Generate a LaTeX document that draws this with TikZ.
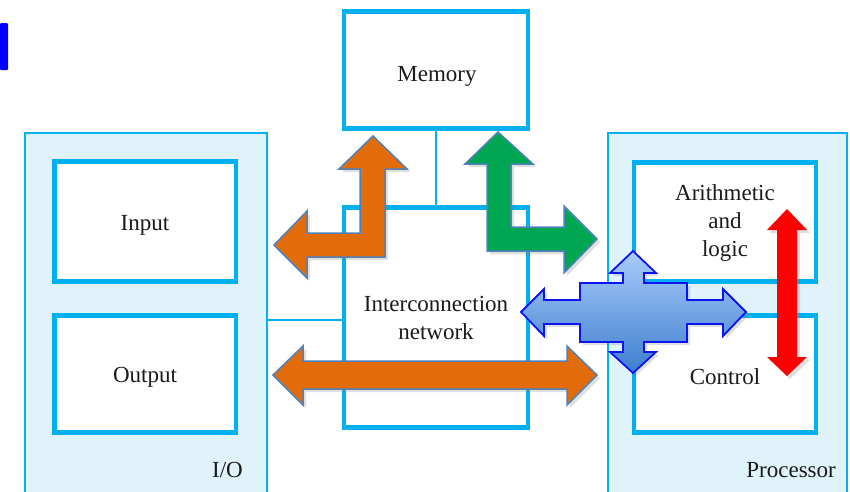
\documentclass[tikz,border=0pt]{standalone}
\usepackage{fontspec}
\setmainfont{Liberation Serif}
\usetikzlibrary{shadows}
\definecolor{cyanline}{HTML}{00B0F0}
\definecolor{lightfill}{HTML}{E0F3FB}
\definecolor{orangefill}{HTML}{E36C0A}
\definecolor{greenfill}{HTML}{00A651}
\definecolor{arrowedge}{HTML}{4F81BD}
\definecolor{crosstop}{HTML}{A9CCFA}
\definecolor{crossbot}{HTML}{3E7ECF}
\definecolor{crossedge}{HTML}{0A14F0}
\definecolor{markblue}{HTML}{0000FF}
\definecolor{textcol}{HTML}{1A1A1A}
\begin{document}
\begin{tikzpicture}[x=1pt,y=-1pt,
  every node/.style={font=\fontsize{23}{28}\selectfont, text=textcol},
  outerbox/.style={draw=cyanline, fill=lightfill, line width=2pt, inner sep=0pt, anchor=north west},
  unitbox/.style={draw=cyanline, fill=white, line width=4.5pt, inner sep=0pt},
  boxtext/.style={inner sep=0pt, align=center},
  link/.style={draw=cyanline, line width=2pt},
  shade/.style={drop shadow={shadow xshift=3pt, shadow yshift=-3pt, opacity=0.25}},
  bigarrow/.style={draw=arrowedge, line width=1.5pt, line join=miter, shade},
  crossarrow/.style={draw=crossedge, line width=1.8pt, line join=miter, top color=crosstop, bottom color=crossbot, shade},
  redarrow/.style={fill=red, shade}
]
\useasboundingbox (0,0) rectangle (850,491);
\clip (0,0) rectangle (850,491);

% blue mark
\fill[markblue, rounded corners=1pt] (0,23) rectangle (8,70);

% outer groups
\node[outerbox, minimum width=242pt, minimum height=400pt] (io) at (24,132) {};
\node[outerbox, minimum width=239pt, minimum height=400pt] (proc) at (607,132) {};

% units
\node[unitbox, minimum width=181.5pt, minimum height=120pt] (input) at (145,221.5) {};
\node[unitbox, minimum width=181.5pt, minimum height=117pt] (output) at (145,374) {};
\node[unitbox, minimum width=184pt, minimum height=117pt] (mem) at (436,70) {};
\node[unitbox, minimum width=184pt, minimum height=220pt] (net) at (436,317.5) {};
\node[unitbox, minimum width=182pt, minimum height=119pt] (alu) at (725,222) {};
\node[unitbox, minimum width=182pt, minimum height=117pt] (ctrl) at (725,374) {};

% unit texts
\node[boxtext] (inputtext) at (145,225) {Input};
\node[boxtext] (outputtext) at (145,377) {Output};
\node[boxtext] (memtext) at (437,76) {Memory};
\node[boxtext] (nettext) at (436,318) {Interconnection\\network};
\node[boxtext] (alutext) at (725,223) {Arithmetic\\and\\logic};
\node[boxtext] (ctrltext) at (725,377) {Control};

% group labels
\node[anchor=east, inner sep=0pt] (iolabel) at (243,470) {I/O};
\node[anchor=east, inner sep=0pt] (proclabel) at (836,470) {Processor};

% links
\coordinate (hy) at (0,320);
\draw[link] (mem.south) -- (net.north);
\draw[link] (io.east |- hy) -- (net.west |- hy);

% orange L arrow (I/O <-> memory)
\draw[bigarrow, fill=orangefill]
  (274,245) -- (307,211) -- (307,233) -- (360,233) -- (360,169) -- (339,169)
  -- (373,136) -- (407,169) -- (385,169) -- (385,257) -- (307,257) -- (307,278) -- cycle;

% green L arrow (memory <-> processor)
\draw[bigarrow, fill=greenfill]
  (498,132) -- (533,164) -- (511,164) -- (511,227) -- (564,227) -- (564,206)
  -- (597,239) -- (564,273) -- (564,251) -- (487,251) -- (487,164) -- (465,164) -- cycle;

% orange double arrow (I/O <-> processor)
\draw[bigarrow, fill=orangefill]
  (273,375) -- (303,346) -- (303,361) -- (567,361) -- (567,346) -- (597,375)
  -- (567,405) -- (567,389) -- (303,389) -- (303,405) -- cycle;

% blue four-way arrow
\draw[crossarrow]
  (521,312) -- (544,289) -- (544,300) -- (580,300) -- (580,283) -- (623,283)
  -- (623,273) -- (610,273) -- (633,251) -- (656,273) -- (644,273) -- (644,283)
  -- (687,283) -- (687,300) -- (723,300) -- (723,289) -- (746,312) -- (723,336)
  -- (723,324) -- (687,324) -- (687,342) -- (644,342) -- (644,352) -- (656,352)
  -- (633,373) -- (610,352) -- (623,352) -- (623,342) -- (580,342) -- (580,324)
  -- (544,324) -- (544,336) -- cycle;

% red vertical double arrow
\path[redarrow]
  (787,209) -- (807,230) -- (797,230) -- (797,357) -- (807,357) -- (787,376)
  -- (767,357) -- (777,357) -- (777,230) -- (767,230) -- cycle;
\end{tikzpicture}
\end{document}
